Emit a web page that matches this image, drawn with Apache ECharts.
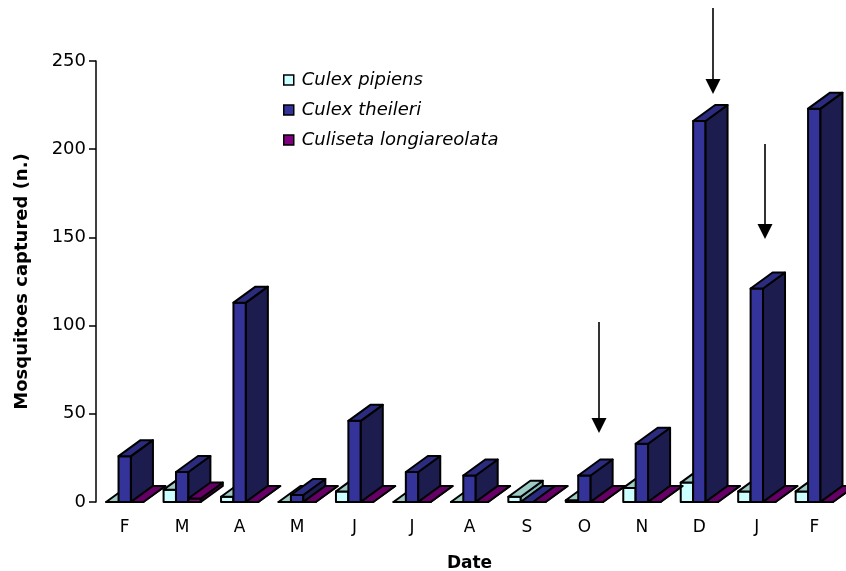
<!DOCTYPE html>
<html>
<head>
<meta charset="utf-8">
<script src="https://cdn.jsdelivr.net/npm/echarts@6/dist/echarts.min.js"></script>
<style>
  html, body { margin: 0; padding: 0; background: #fff; }
  #chart { width: 846px; height: 571px; }
</style>
</head>
<body>
<div id="chart"></div>
<script>
// Monthly catches per species
const months = ['F', 'M', 'A', 'M', 'J', 'J', 'A', 'S', 'O', 'N', 'D', 'J', 'F'];
const culexPipiens = [0, 7, 3, 0, 6, 0, 0, 3, 1, 8, 11, 6, 6];
const culexTheileri = [26, 17, 113, 4, 46, 17, 15, 0, 15, 33, 216, 121, 223];
const culisetaLongiareolata = [0, 2, 0, 0, 0, 0, 0, 0, 0, 0, 0, 0, 0];
const yTicks = { min: 0, max: 250, interval: 50 };

// Face colours for the pseudo-3D columns: front, right side, top
const palettes = [
  { front: '#CCFFFF', side: '#7FB2B2', top: '#9CCBC6' },
  { front: '#333399', side: '#1C1C4E', top: '#2B2B80' },
  { front: '#800080', side: '#4A004A', top: '#660066' }
];
const BAR_RATIO = 0.216;   // column width as a share of the category band
const DEPTH_X_RATIO = 0.383;
const DEPTH_Y = -16;
const FONT = 'DejaVu Sans, Verdana, sans-serif';

function columnRenderer(slot, pal) {
  return function (params, api) {
    const cat = api.value(0);
    const v = api.value(1);
    const base = api.coord([cat, 0]);
    const top = api.coord([cat, v]);
    const band = api.size([1, 0])[0];
    const w = band * BAR_RATIO;
    const x0 = base[0] + (slot - 1) * w - w / 2;
    const x1 = x0 + w;
    const yb = base[1], yt = top[1];
    const dx = band * DEPTH_X_RATIO, dy = DEPTH_Y;
    const edge = { stroke: '#000', lineWidth: 2, lineJoin: 'round' };
    return {
      type: 'group',
      children: [
        { type: 'polygon', shape: { points: [[x0, yb], [x1, yb], [x1, yt], [x0, yt]] },
          style: Object.assign({ fill: pal.front }, edge) },
        { type: 'polygon', shape: { points: [[x1, yb], [x1 + dx, yb + dy], [x1 + dx, yt + dy], [x1, yt]] },
          style: Object.assign({ fill: pal.side }, edge) },
        { type: 'polygon', shape: { points: [[x0, yt], [x1, yt], [x1 + dx, yt + dy], [x0 + dx, yt + dy]] },
          style: Object.assign({ fill: pal.top }, edge) }
      ]
    };
  };
}

function seriesFor(name, values, slot) {
  return {
    name: name,
    type: 'custom',
    renderItem: columnRenderer(slot, palettes[slot]),
    itemStyle: { color: palettes[slot].front },
    encode: { x: 0, y: 1 },
    data: values.map(function (v, i) { return [i, v]; }),
    animation: false
  };
}

// Arrow annotation: vertical shaft with a filled head
function arrow(x, yTop, yTip) {
  const hw = 7.5, hh = 15;
  return {
    type: 'group',
    children: [
      { type: 'line', shape: { x1: x, y1: yTop, x2: x, y2: yTip - hh + 1 }, style: { stroke: '#000', lineWidth: 1.6 } },
      { type: 'polygon', shape: { points: [[x - hw, yTip - hh], [x + hw, yTip - hh], [x, yTip]] }, style: { fill: '#000' } }
    ]
  };
}

const chart = echarts.init(document.getElementById('chart'), null, { renderer: 'canvas' });
chart.setOption({
  animation: false,
  backgroundColor: '#fff',
  textStyle: { fontFamily: FONT, color: '#000' },
  grid: { left: 96, right: 3, top: 61, bottom: 69, containLabel: false, outerBoundsMode: 'none' },
  legend: {
    orient: 'vertical',
    left: 283,
    top: 71,
    padding: 0,
    itemWidth: 10,
    itemHeight: 10,
    itemGap: 12,
    icon: 'rect',
    itemStyle: { borderColor: '#000', borderWidth: 1.5 },
    textStyle: { fontFamily: FONT, fontSize: 18, fontStyle: 'italic', color: '#000', padding: [0, 0, 0, 3] },
    data: ['Culex pipiens', 'Culex theileri', 'Culiseta longiareolata']
  },
  xAxis: {
    type: 'category',
    data: months,
    name: 'Date',
    nameLocation: 'middle',
    nameGap: 53,
    nameTextStyle: { fontFamily: FONT, fontSize: 17, fontWeight: 'bold', color: '#000' },
    axisLine: { show: false },
    axisTick: { show: false },
    axisLabel: { fontFamily: FONT, fontSize: 17, color: '#000', margin: 17 }
  },
  yAxis: {
    type: 'value',
    min: yTicks.min,
    max: yTicks.max,
    interval: yTicks.interval,
    name: 'Mosquitoes captured (n.)',
    nameLocation: 'middle',
    nameGap: 65,
    nameRotate: 90,
    nameTextStyle: { fontFamily: FONT, fontSize: 18, fontWeight: 'bold', color: '#000' },
    axisLine: { show: true, lineStyle: { color: '#000', width: 1.5 } },
    axisTick: { show: true, length: 7, lineStyle: { color: '#000', width: 1.5 } },
    axisLabel: { fontFamily: FONT, fontSize: 18, color: '#000', margin: 10 },
    splitLine: { show: false }
  },
  series: [
    seriesFor('Culex pipiens', culexPipiens, 0),
    seriesFor('Culex theileri', culexTheileri, 1),
    seriesFor('Culiseta longiareolata', culisetaLongiareolata, 2)
  ],
  graphic: [
    arrow(599, 322, 433),
    arrow(713, 8, 94),
    arrow(765, 144, 239)
  ]
});
</script>
</body>
</html>
